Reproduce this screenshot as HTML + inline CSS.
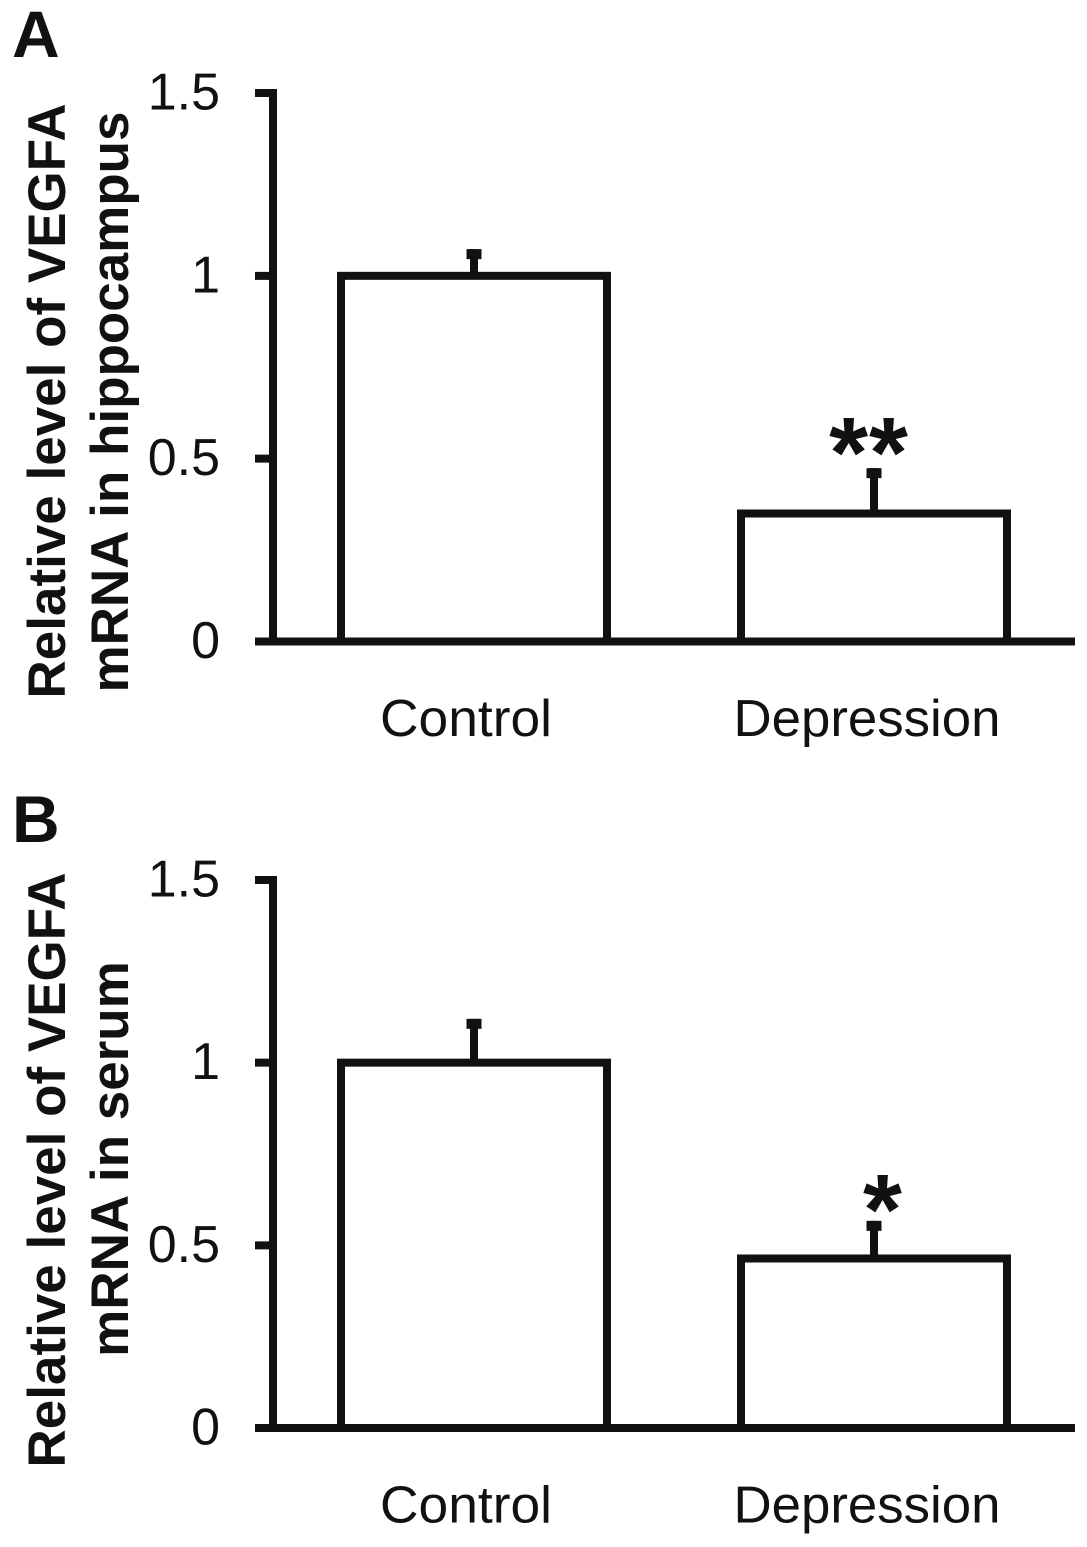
<!DOCTYPE html>
<html>
<head>
<meta charset="utf-8">
<style>
html,body{margin:0;padding:0;background:#fff;}
svg{display:block;}
text{font-family:"Liberation Sans",Arial,sans-serif;fill:#111;}
</style>
</head>
<body>
<svg id="chart" width="1087" height="1547" viewBox="0 0 1087 1547" xmlns="http://www.w3.org/2000/svg"></svg>
<script>
const categories = ['Control', 'Depression'];
const tickValues = [0, 0.5, 1, 1.5];
const tickLabels = ['0', '0.5', '1', '1.5'];
const panelAMeans = [1, 0.35];
const panelAErrors = [0.073, 0.124];
const panelAStars = ['', '**'];
const panelBMeans = [1, 0.464];
const panelBErrors = [0.12, 0.103];
const panelBStars = ['', '*'];

const svg = document.getElementById('chart');
const NS = 'http://www.w3.org/2000/svg';
const INK = '#111';

function make(tag, attrs, name, parent) {
  const el = document.createElementNS(NS, tag);
  for (const k in attrs) el.setAttribute(k, attrs[k]);
  
  
  (parent || svg).appendChild(el);
  return el;
}

function drawPanel(cfg) {
  const g = make('g', {}, 'panel-' + cfg.letter.toLowerCase());
  const y = v => cfg.y0 - v * (cfg.y0 - cfg.yTop) / 1.5;
  const centers = [474, 874];
  const halfW = 133;

  make('text', {x: 12, y: cfg.letterY, 'font-size': 66, 'font-weight': 'bold'}, 'panel-label', g).textContent = cfg.letter;

  cfg.means.forEach((m, i) => {
    const cx = centers[i];
    const top = y(m + cfg.errors[i]);
    make('line', {x1: cx, x2: cx, y1: y(m), y2: top, stroke: INK, 'stroke-width': 8}, 'error-bar-' + categories[i].toLowerCase(), g);
    make('rect', {x: cx - 7.5, y: top, width: 15, height: 10, fill: INK}, 'error-cap-' + categories[i].toLowerCase(), g);
    make('rect', {x: cx - halfW, y: y(m), width: halfW * 2, height: cfg.y0 - y(m), fill: '#fff', stroke: INK, 'stroke-width': 8}, 'bar-' + categories[i].toLowerCase(), g);
    make('text', {x: i === 0 ? 466 : 867, y: cfg.y0 + 94.5, 'font-size': 52, 'text-anchor': 'middle', textLength: i === 0 ? 172 : 267, lengthAdjust: 'spacingAndGlyphs'}, 'x-label-' + categories[i].toLowerCase(), g).textContent = categories[i];
    if (cfg.stars[i]) {
      make('text', {x: cx + (cfg.stars[i].length === 1 ? 8.5 : -5), y: top + cfg.starGap, 'font-size': 100, 'font-weight': 'bold', 'text-anchor': 'middle', 'letter-spacing': cfg.stars[i].length === 1 ? 0 : 1}, 'significance-marker', g).textContent = cfg.stars[i];
    }
  });

  make('line', {x1: 273, x2: 273, y1: cfg.yTop - 4, y2: cfg.y0, stroke: INK, 'stroke-width': 8}, 'y-axis', g);
  make('line', {x1: 255, x2: 1075, y1: cfg.y0, y2: cfg.y0, stroke: INK, 'stroke-width': 8}, 'x-axis', g);

  tickValues.forEach((v, i) => {
    make('line', {x1: 255, x2: 273, y1: y(v), y2: y(v), stroke: INK, 'stroke-width': 8}, 'y-tick-' + tickLabels[i], g);
    make('text', {x: 220, y: y(v) + 16.5, 'font-size': 52, 'text-anchor': 'end'}, 'y-tick-label-' + tickLabels[i], g).textContent = tickLabels[i];
  });

  make('text', {transform: 'translate(65,' + cfg.titleCenter + ') rotate(-90)', 'font-size': 53, 'font-weight': 'bold', 'text-anchor': 'middle'}, 'y-axis-title-line-1', g).textContent = 'Relative level of VEGFA';
  make('text', {transform: 'translate(128,' + cfg.title2Center + ') rotate(-90)', 'font-size': 53, 'font-weight': 'bold', 'text-anchor': 'middle'}, 'y-axis-title-line-2', g).textContent = cfg.title2;
}

drawPanel({letter: 'A', letterY: 57, yTop: 93, y0: 641.5, means: panelAMeans, errors: panelAErrors, stars: panelAStars, starGap: 19, titleCenter: 401, title2Center: 402, title2: 'mRNA in hippocampus'});
drawPanel({letter: 'B', letterY: 842, yTop: 880, y0: 1428, means: panelBMeans, errors: panelBErrors, stars: panelBStars, starGap: 23, titleCenter: 1170, title2Center: 1159, title2: 'mRNA in serum'});
</script>
</body>
</html>
